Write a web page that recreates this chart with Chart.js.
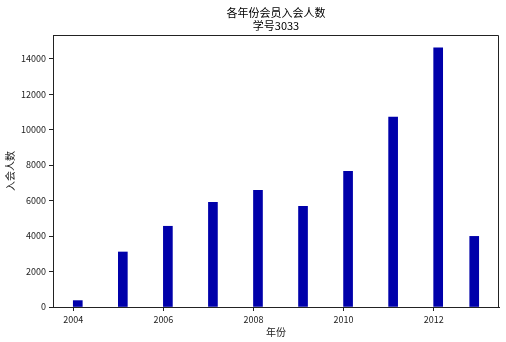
<!DOCTYPE html>
<html>
<head>
<meta charset="utf-8">
<script src="https://cdn.jsdelivr.net/npm/chart.js@4/dist/chart.umd.min.js"></script>
<style>
  body { margin: 0; background: #fff; }
  #wrap { width: 506px; height: 342px; }
</style>
</head>
<body>
<div id="wrap"><canvas id="memberChart"></canvas></div>
<script>
// left edge of each bar (year) and member counts
const barLeft = [2004, 2005, 2006, 2007, 2008, 2009, 2010, 2011, 2012, 2012.8];
const members = [360, 3100, 4550, 5900, 6580, 5680, 7650, 10700, 14600, 3980];
const barWidth = 0.2;
const xTicks = [2004, 2006, 2008, 2010, 2012];
const yTicks = [0, 2000, 4000, 6000, 8000, 10000, 12000, 14000];
const titleLines = ['各年份会员入会人数', '学号3033'];

const FONT = '"Noto Sans CJK SC", "DejaVu Sans", sans-serif';

const points = barLeft.map((x, i) => ({ x: x + barWidth / 2, y: members[i] }));

// top and right sides of the axes box (left/bottom come from the scale borders)
const frame = {
    id: 'frame',
    afterDraw(chart) {
        const a = chart.chartArea;
        const ctx = chart.ctx;
        const top = Math.round(a.top) + 0.5;
        const right = Math.round(a.right) - 0.5;
        ctx.save();
        ctx.strokeStyle = '#222';
        ctx.lineWidth = 1;
        ctx.beginPath();
        ctx.moveTo(a.left, top);
        ctx.lineTo(right, top);
        ctx.lineTo(right, a.bottom);
        ctx.stroke();
        ctx.restore();
    }
};

new Chart(document.getElementById('memberChart'), {
    type: 'bar',
    data: {
        datasets: [{
            data: points,
            backgroundColor: '#0000aa',
            borderWidth: 0,
            barThickness: ctx => {
                const s = ctx.chart.scales.x;
                if (!s) return 9;
                return Math.abs(s.getPixelForValue(2004 + barWidth) - s.getPixelForValue(2004));
            }
        }]
    },
    options: {
        responsive: true,
        maintainAspectRatio: false,
        animation: false,
        layout: { padding: { left: 0, right: 7, top: 0, bottom: 0 } },
        plugins: {
            legend: { display: false },
            tooltip: { enabled: false },
            title: {
                display: true,
                text: titleLines,
                fullSize: false,
                color: '#000',
                font: { family: FONT, size: 11, weight: 'normal', lineHeight: 1.15 },
                padding: { top: 6.5, bottom: 3.2 }
            }
        },
        scales: {
            x: {
                type: 'linear',
                min: 2003.55,
                max: 2013.45,
                offset: false,
                afterBuildTicks: s => { s.ticks = xTicks.map(v => ({ value: v })); },
                afterFit: s => { s.height = 35; },
                grid: { offset: false, drawOnChartArea: false, drawTicks: true, tickLength: 4, color: '#222' },
                border: { display: true, color: '#222', width: 1 },
                ticks: {
                    autoSkip: false,
                    padding: 3,
                    color: '#222',
                    maxRotation: 0,
                    font: { family: FONT, size: 9 },
                    callback: v => String(v)
                },
                title: {
                    display: true,
                    text: '年份',
                    color: '#222',
                    font: { family: FONT, size: 10 },
                    padding: { top: 0, bottom: 4 }
                }
            },
            y: {
                min: 0,
                max: 15330,
                afterBuildTicks: s => { s.ticks = yTicks.map(v => ({ value: v })); },
                afterFit: s => { s.width = 53; },
                grid: { drawOnChartArea: false, drawTicks: true, tickLength: 4, color: '#222' },
                border: { display: true, color: '#222', width: 1 },
                ticks: {
                    autoSkip: false,
                    padding: 3,
                    color: '#222',
                    font: { family: FONT, size: 9 },
                    callback: v => String(v)
                },
                title: {
                    display: true,
                    text: '入会人数',
                    color: '#222',
                    font: { family: FONT, size: 10 },
                    padding: { top: 4, bottom: 0 }
                }
            }
        }
    },
    plugins: [frame]
});
</script>
</body>
</html>
